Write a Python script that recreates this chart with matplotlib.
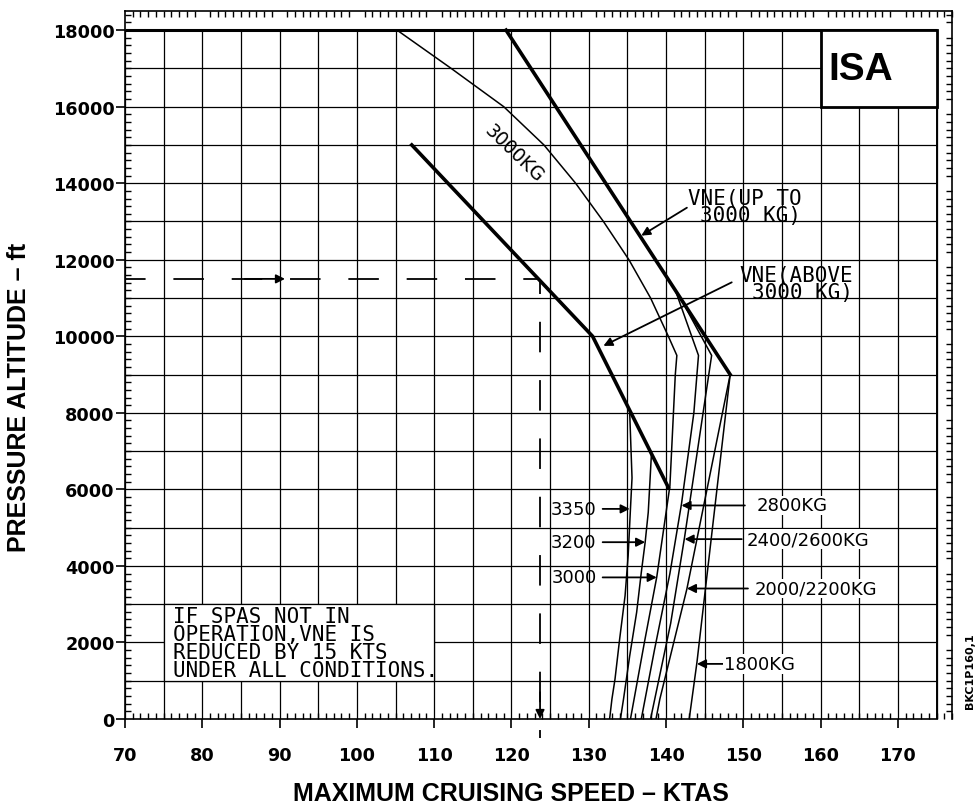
import numpy as np
import matplotlib
matplotlib.use("Agg")
import matplotlib.pyplot as plt
from matplotlib.patches import Rectangle
from matplotlib.ticker import MultipleLocator

# axis ranges / ticks
x_ticks = list(range(70, 171, 10))
y_ticks = list(range(0, 18001, 2000))

# VNE lines (thick)
vne_up_x = [119.3, 148.3]
vne_up_y = [18000, 9000]
vne_above_x = [107.1, 130.5, 140.3]
vne_above_y = [15000, 10000, 6050]

# weight curves (thin)
w3000_x = [105.2, 112.2, 119.0, 124.2, 128.3, 131.9, 135.2, 138.0, 140.3, 141.4, 141.2, 140.5, 138.8, 137.2, 135.4]
w3000_y = [18000, 17000, 16000, 15000, 14000, 13000, 12000, 11000, 10000, 9500, 9000, 6090, 3710, 2000, 0]
w3350_x = [135.3, 135.6, 135.4, 135.1, 134.7, 134.0, 133.4, 133.0, 132.7]
w3350_y = [8000, 6300, 5500, 4270, 3220, 2090, 1045, 520, 0]
w3200_x = [138.1, 137.7, 137.3, 136.8, 136.2, 135.3, 134.5, 134.1]
w3200_y = [6880, 5400, 4620, 3830, 2790, 1650, 520, 0]
w2800_x = [141.3, 144.2, 143.6, 142.0, 140.5, 138.5, 136.8]
w2800_y = [11150, 9500, 8000, 5620, 3800, 1800, 0]
w2600_x = [142.4, 145.9, 142.4, 140.6, 138.0]
w2600_y = [10800, 9500, 4750, 2500, 0]
w2200_x = [148.3, 142.7, 139.2, 138.7]
w2200_y = [9000, 3400, 520, 0]
w1800_x = [148.3, 144.0, 143.0]
w1800_y = [9000, 1480, 0]

# example
ex_alt = 11500
ex_speed = 123.7

fig = plt.figure(figsize=(9.75, 8.12), dpi=100)
ax = fig.add_axes([125/975, 92/812, 827/975, 708/812])
ax.set_xlim(70, 177)
ax.set_ylim(0, 18500)

# grid
for gx in range(70, 176, 5):
    ax.vlines(gx, 0, 18000, color='k', lw=0.9, zorder=1)
for gy in range(1000, 18001, 1000):
    ax.hlines(gy, 70, 175, color='k', lw=0.9, zorder=1)
ax.hlines(18000, 70, 175, color='k', lw=2.2, zorder=2)
ax.vlines(175, 0, 18000, color='k', lw=1.4, zorder=2)

# boxes
ax.add_patch(Rectangle((75, 1000), 35, 2000, facecolor='white', edgecolor='k', lw=0.9, zorder=3))
ax.add_patch(Rectangle((160, 16000), 15, 2000, facecolor='white', edgecolor='k', lw=2.0, zorder=3))
ax.text(165.2, 16980, 'ISA', fontsize=28, fontweight='bold', family='Liberation Sans',
        ha='center', va='center', zorder=4)

mono = 'DejaVu Sans Mono'
ax.text(76.2, 2960, 'IF SPAS NOT IN\nOPERATION,VNE IS\nREDUCED BY 15 KTS\nUNDER ALL CONDITIONS.',
        family=mono, fontsize=15, ha='left', va='top', linespacing=0.89, zorder=4)

# curves
ax.plot(vne_up_x, vne_up_y, color='k', lw=2.6, zorder=5)
ax.plot(vne_above_x, vne_above_y, color='k', lw=2.6, zorder=5)
for cx, cy in [(w3000_x, w3000_y), (w3350_x, w3350_y), (w3200_x, w3200_y),
               (w2800_x, w2800_y), (w2600_x, w2600_y), (w2200_x, w2200_y), (w1800_x, w1800_y)]:
    ax.plot(cx, cy, color='k', lw=1.1, zorder=5)

# example dashed
ax.plot([70, ex_speed], [ex_alt, ex_alt], color='k', lw=1.3, ls=(5.5, (16.9, 15.4)), zorder=5)
ax.plot([ex_speed, ex_speed], [ex_alt, -500], color='k', lw=1.3, ls=(8.6, (16.9, 15.4)), zorder=5,
        clip_on=False)

arr = dict(arrowstyle='-|>', color='k', lw=1.3, mutation_scale=13, shrinkA=0, shrinkB=0)
ax.annotate('', xy=(90.7, ex_alt), xytext=(85.5, ex_alt), arrowprops=arr, zorder=6)
ax.annotate('', xy=(ex_speed, 0), xytext=(ex_speed, 700), arrowprops=arr, zorder=6)

# labels with arrows
ax.text(120.4, 14800, '3000KG', fontsize=13.5, rotation=-44, ha='center', va='center', zorder=6)

ax.text(157.5, 13400, 'VNE(UP TO\n3000 KG)', family=mono, fontsize=15, ha='right',
        multialignment='right', va='center', linespacing=0.82, zorder=6)
ax.text(164.2, 11390, 'VNE(ABOVE\n3000 KG)', family=mono, fontsize=15, ha='right',
        multialignment='right', va='center', linespacing=0.82, zorder=6)
ax.annotate('', xy=(136.8, 12630), xytext=(142.7, 13360), arrowprops=arr, zorder=6)
ax.annotate('', xy=(131.9, 9750), xytext=(148.5, 11410), arrowprops=arr, zorder=6)

left_labels = [('3350', 5490, 135.3), ('3200', 4620, 137.3), ('3000', 3700, 138.8)]
for txt, yy, tip in left_labels:
    ax.text(131.0, yy, txt, fontsize=13, ha='right', va='center', zorder=6)
    ax.annotate('', xy=(tip, yy), xytext=(131.8, yy), arrowprops=arr, zorder=6)

right_labels = [('2800KG', 5580, 142.0, 150.2, 151.7),
                ('2400/2600KG', 4700, 142.4, 149.8, 150.4),
                ('2000/2200KG', 3410, 142.7, 150.6, 151.4),
                ('1800KG', 1440, 144.0, 147.4, 147.5)]
for txt, yy, tip, tail, tx in right_labels:
    ax.annotate('', xy=(tip, yy), xytext=(tail, yy), arrowprops=arr, zorder=6)
    ax.text(tx, yy, txt, fontsize=13, ha='left', va='center', zorder=6,
            bbox=dict(facecolor='white', edgecolor='none', pad=0.5))

# axes styling
ax.set_xticks(x_ticks)
ax.set_yticks(y_ticks)
ax.xaxis.set_minor_locator(MultipleLocator(1))
ax.yaxis.set_minor_locator(MultipleLocator(200))
ax.tick_params(which='major', direction='out', length=6.5, width=1.2, labelsize=12.7)
ax.tick_params(axis='y', which='major', pad=1)
ax.tick_params(axis='x', which='major', pad=13)
ax.tick_params(which='minor', direction='in', length=4, width=1.0, top=True, right=True)
ax.tick_params(which='major', top=False, right=False)
for lab in ax.get_xticklabels() + ax.get_yticklabels():
    lab.set_fontweight('bold')
for s in ax.spines.values():
    s.set_linewidth(1.2)
ax.spines['bottom'].set_bounds(70, 175)

fig.text(511/975, 1 - 794/812, 'MAXIMUM CRUISING SPEED \u2013 KTAS', fontsize=18, fontweight='bold',
         family='Liberation Sans', ha='center', va='center')
fig.text(19/975, 1 - 397/812, 'PRESSURE ALTITUDE \u2013 ft', fontsize=18, fontweight='bold',
         family='Liberation Sans', ha='center', va='center', rotation=90)
fig.text(970/975, 1 - 671/812, 'BKC1P160,1', fontsize=8, fontweight='bold', ha='center',
         va='center', rotation=90)

fig.savefig('out.png', dpi=100)
